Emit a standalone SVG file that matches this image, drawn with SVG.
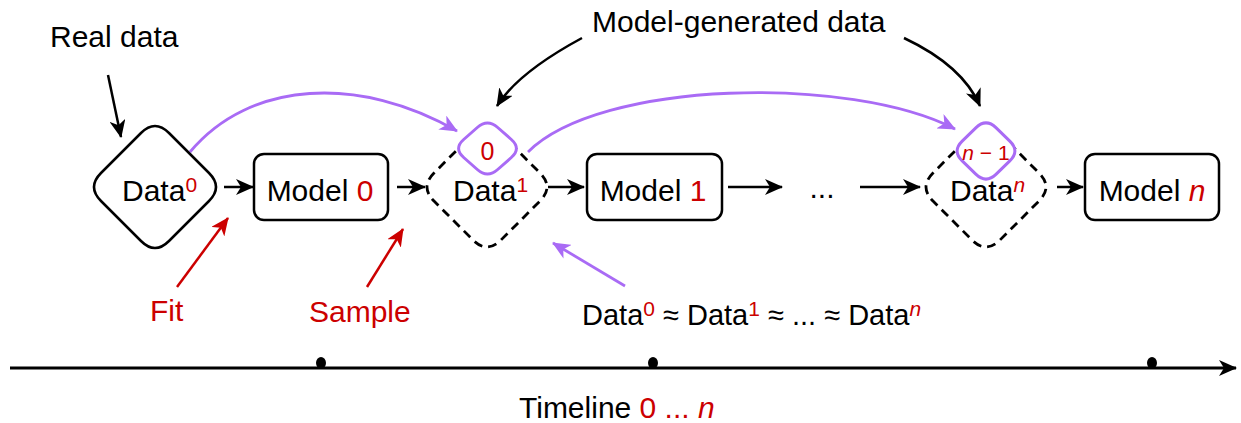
<svg xmlns="http://www.w3.org/2000/svg" width="1241" height="423" viewBox="0 0 1241 423">
<style>
text{font-family:"Liberation Sans",Arial,Helvetica,sans-serif;fill:#000}
.t{font-size:30px}
.f{font-size:29px}
.sup{font-size:21px}
.red{fill:#cc0000}
.it{font-style:italic}
.box{fill:#fff;stroke:#000;stroke-width:2.5}
.dash{fill:#fff;stroke:#000;stroke-width:2.8;stroke-dasharray:9 6}
.pd{fill:#fff;stroke:#a96bf5;stroke-width:3}
.bl{fill:none;stroke:#000;stroke-width:2.5}
.rl{fill:none;stroke:#cc0000;stroke-width:2.5}
.pl{fill:none;stroke:#a96bf5;stroke-width:2.8}
</style>
<defs>
<marker id="ab" markerUnits="userSpaceOnUse" markerWidth="20" markerHeight="16" refX="17" refY="8" orient="auto"><path d="M0,0 L18,8 L0,16 L5,8 z" fill="#000"/></marker>
<marker id="ar" markerUnits="userSpaceOnUse" markerWidth="20" markerHeight="16" refX="17" refY="8" orient="auto"><path d="M0,0 L18,8 L0,16 L5,8 z" fill="#cc0000"/></marker>
<marker id="ap" markerUnits="userSpaceOnUse" markerWidth="20" markerHeight="16" refX="17" refY="8" orient="auto"><path d="M0,0 L18,8 L0,16 L5,8 z" fill="#a96bf5"/></marker>
</defs>

<g id="connectors">
<line class="bl" x1="224" y1="187" x2="253" y2="187" marker-end="url(#ab)"/>
<line class="bl" x1="397" y1="187" x2="425" y2="187" marker-end="url(#ab)"/>
<line class="bl" x1="548" y1="187" x2="584" y2="187" marker-end="url(#ab)"/>
<line class="bl" x1="728" y1="187" x2="782" y2="187" marker-end="url(#ab)"/>
<line class="bl" x1="860" y1="187" x2="920" y2="187" marker-end="url(#ab)"/>
<line class="bl" x1="1057" y1="187" x2="1083" y2="187" marker-end="url(#ab)"/>
<line class="bl" x1="108" y1="75" x2="121" y2="137" marker-end="url(#ab)"/>
<path class="bl" d="M582,38 C545,58 512,82 497,106" marker-end="url(#ab)"/>
<path class="bl" d="M904,38 C940,55 968,78 980,106" marker-end="url(#ab)"/>
<line class="rl" x1="177" y1="287" x2="228" y2="218" marker-end="url(#ar)"/>
<line class="rl" x1="367" y1="287" x2="403" y2="229" marker-end="url(#ar)"/>
<path class="pl" d="M190,152 C250,80 360,75 457,131" marker-end="url(#ap)"/>
<path class="pl" d="M528,152 C600,80 850,75 955,129" marker-end="url(#ap)"/>
<line class="pl" x1="625" y1="286" x2="553" y2="243" marker-end="url(#ap)"/>
<line x1="10" y1="368" x2="1236" y2="368" stroke="#000" stroke-width="3" marker-end="url(#ab)"/>
</g>

<g id="data0">
<path class="box" d="M141,133 Q155,119 169,133 L209,173 Q223,187 209,201 L169,241 Q155,255 141,241 L101,201 Q87,187 101,173 Z"/>
<text class="t" x="122" y="201">Data<tspan class="sup red" dy="-9">0</tspan></text>
</g>

<g id="model0">
<rect class="box" x="254" y="154" width="134" height="66" rx="10"/>
<text class="t" x="320" y="201" text-anchor="middle">Model <tspan class="red">0</tspan></text>
</g>

<g id="data1">
<path class="dash" d="M473,134 Q487,120 501,134 L540,173 Q554,187 540,201 L501,240 Q487,254 473,240 L434,201 Q420,187 434,173 Z"/>
<path class="pd" d="M477.3,127.5 Q487.5,118.5 497.7,127.5 L511.3,139.5 Q521.5,148.5 511.3,157.5 L497.7,169.5 Q487.5,178.5 477.3,169.5 L463.7,157.5 Q453.5,148.5 463.7,139.5 Z"/>
<text x="487.5" y="160" text-anchor="middle" style="font-size:25px" class="red">0</text>
<text class="t" x="453" y="201">Data<tspan class="sup red" dy="-9">1</tspan></text>
</g>

<g id="model1">
<rect class="box" x="587" y="154" width="135" height="66" rx="10"/>
<text class="t" x="653" y="201" text-anchor="middle">Model <tspan class="red">1</tspan></text>
</g>

<g id="ellipsis">
<text class="t" x="822" y="198" text-anchor="middle">...</text>
</g>

<g id="datan">
<path class="dash" d="M972,134 Q986,120 1000,134 L1039,173 Q1053,187 1039,201 L1000,240 Q986,254 972,240 L933,201 Q919,187 933,173 Z"/>
<path class="pd" d="M975.8,127.9 Q986,118 996.2,127.9 L1009.8,141.1 Q1020,151 1009.8,160.9 L996.2,174.1 Q986,184 975.8,174.1 L962.2,160.9 Q952,151 962.2,141.1 Z"/>
<text x="986" y="160" text-anchor="middle" style="font-size:21px" class="red"><tspan class="it">n</tspan> − 1</text>
<text class="t" x="950" y="201">Data<tspan class="sup red it" dy="-9">n</tspan></text>
</g>

<g id="modeln">
<rect class="box" x="1085" y="154" width="134" height="66" rx="10"/>
<text class="t" x="1152" y="201" text-anchor="middle">Model <tspan class="red it">n</tspan></text>
</g>

<g id="labels">
<text class="t" x="50" y="47">Real data</text>
<text class="t" x="592" y="32">Model-generated data</text>
<text class="t red" x="150" y="321">Fit</text>
<text class="t red" x="309" y="322">Sample</text>
<text class="f" x="582" y="325">Data<tspan class="sup red" dy="-9">0</tspan><tspan dy="9"> ≈ Data</tspan><tspan class="sup red" dy="-9">1</tspan><tspan dy="9"> ≈ ... ≈ Data</tspan><tspan class="sup red it" dy="-9">n</tspan></text>
<text class="t" x="519" y="418">Timeline <tspan class="red">0 ... <tspan class="it">n</tspan></tspan></text>
</g>

<g id="timeline-dots">
<ellipse cx="321" cy="363" rx="5" ry="6"/>
<ellipse cx="653" cy="363" rx="5" ry="6"/>
<ellipse cx="1152" cy="363" rx="5" ry="6"/>
</g>
</svg>
